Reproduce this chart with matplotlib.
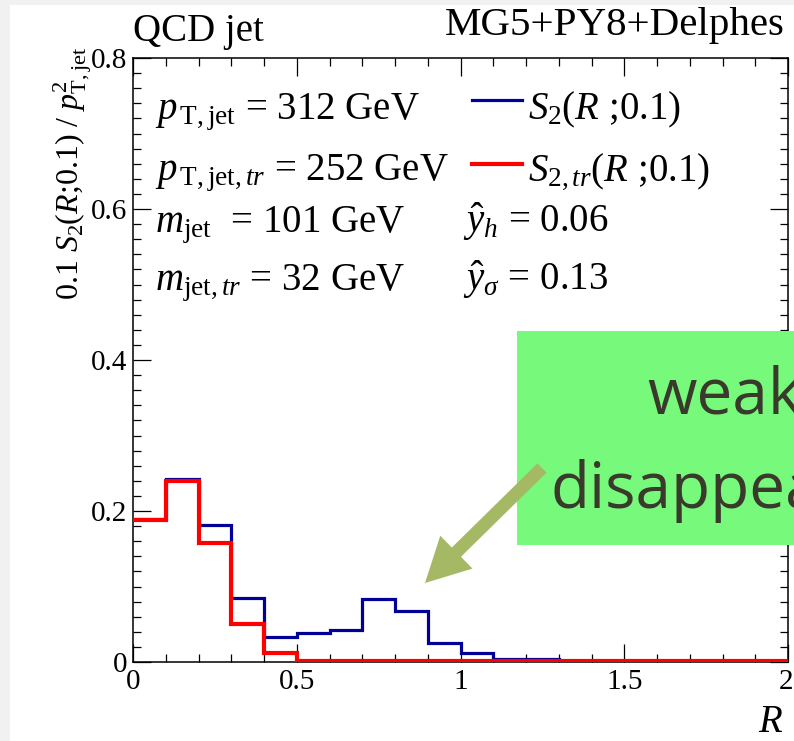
import numpy as np
import matplotlib.pyplot as plt
from matplotlib.patches import Rectangle, FancyArrow
from matplotlib.ticker import MultipleLocator
from matplotlib.transforms import ScaledTranslation

plt.rcParams['font.family'] = 'Liberation Serif'
plt.rcParams['mathtext.fontset'] = 'custom'
plt.rcParams['mathtext.rm'] = 'Liberation Serif'
plt.rcParams['mathtext.it'] = 'Liberation Serif:italic'
plt.rcParams['mathtext.bf'] = 'Liberation Serif:bold'

# bins of width 0.1 in R, from 0 to 2
r_edges = np.round(np.linspace(0, 2, 21), 2)
# S2(R;0.1) for the full jet (blue)
s2 = [0.190, 0.243, 0.182, 0.085, 0.033, 0.038, 0.042, 0.083, 0.068, 0.025,
      0.012, 0.004, 0.004, 0.0015, 0.0015, 0, 0, 0, 0, 0]
# S2 for the trimmed jet (red)
s2_tr = [0.188, 0.240, 0.157, 0.050, 0.0115, 0.0008, 0.0008, 0.0008, 0.0008, 0.0008,
         0.0008, 0.0008, 0.0008, 0.0008, 0.0008, 0.0008, 0.0008, 0.0008, 0.0008, 0.0008]

left_lines = [r'$p_{\,\mathrm{T,jet}}$ = 312 GeV',
              r'$p_{\,\mathrm{T,jet},tr}$ = 252 GeV',
              r'$m_{\mathrm{jet}}$  = 101 GeV',
              r'$m_{\mathrm{jet},tr}$ = 32 GeV']
right_lines = [r'$S_2$($R$ ;0.1)', r'$S_{2,tr}$($R$ ;0.1)',
               r'$\hat{y}_h$ = 0.06', r'$\hat{y}_\sigma$ = 0.13']
baselines = [119, 180, 232, 290]

W, H = 794, 741
fig = plt.figure(figsize=(W / 100, H / 100), dpi=100)
fig.patch.set_facecolor('#f1f1f1')
fig.add_artist(Rectangle((10, 0), W - 10, H - 5, transform=None,
                         facecolor='white', edgecolor='none', zorder=-10))

ax = fig.add_axes([133 / W, 79 / H, 655 / W, 604 / H])
ax.stairs(s2, r_edges, baseline=None, color='#000099', lw=2.3, zorder=3)
ax.stairs(s2_tr, r_edges, baseline=None, color='#ff0000', lw=3.0, zorder=4)
ax.set_xlim(0, 2)
ax.set_ylim(0, 0.8)
ax.xaxis.set_major_locator(MultipleLocator(0.5))
ax.xaxis.set_minor_locator(MultipleLocator(0.1))
ax.yaxis.set_major_locator(MultipleLocator(0.2))
ax.yaxis.set_minor_locator(MultipleLocator(0.02))
ax.tick_params(which='both', direction='in', top=True, right=True, width=0.9,
               labelsize=21)
ax.tick_params(which='major', length=13)
ax.tick_params(which='minor', length=6)
ax.tick_params(axis='x', pad=5)
ax.tick_params(axis='y', pad=4)
ax.set_xticks([0, 0.5, 1, 1.5, 2], ['0', '0.5', '1', '1.5', '2'])
ax.set_yticks([0, 0.2, 0.4, 0.6, 0.8], ['0', '0.2', '0.4', '0.6', '0.8'])
for sp in ax.spines.values():
    sp.set_linewidth(1.1)
# last x label sits right at the figure edge, nudge it in a bit
lab = ax.xaxis.get_major_ticks()[-1].label1
lab.set_transform(lab.get_transform() + ScaledTranslation(-0.02, 0, fig.dpi_scale_trans))

# overlay in pixel coordinates for annotations
fg = fig.add_axes([0, 0, 1, 1], zorder=10)
fg.set_xlim(0, W)
fg.set_ylim(H, 0)
fg.axis('off')
fg.patch.set_alpha(0)

fg.text(133, 41, 'QCD jet', fontsize=28, va='baseline', ha='left')
fg.text(785, 35, 'MG5+PY8+Delphes', fontsize=29.5, va='baseline', ha='right')
fg.text(79, 300, r'0.1 $S_2$($R$;0.1) / $p^2_{\mathrm{T,jet}}$', fontsize=23,
        rotation=90, ha='left', va='baseline', rotation_mode='anchor')
fg.text(783, 732, r'$R$', fontsize=28, ha='right', va='baseline')

for txt, yb in zip(left_lines, baselines):
    fg.text(155, yb, txt, fontsize=28, va='baseline', ha='left')
for i, (txt, yb) in enumerate(zip(right_lines, baselines)):
    x0 = 528 if i < 2 else 463
    fg.text(x0, yb, txt, fontsize=28, va='baseline', ha='left')
fg.plot([472, 522], [100, 100], color='#000099', lw=2.3)
fg.plot([472, 522], [164, 164], color='#ff0000', lw=3.0)

fg.add_patch(Rectangle((517, 331), 300, 214, facecolor='#77f97b',
                       edgecolor='none'))
fg.text(647, 413, 'weak', fontsize=46, family='Open Sans', color='#3a3a2c',
        va='baseline', ha='left')
fg.text(550, 508, 'disappears', fontsize=46, family='Open Sans', color='#3a3a2c',
        va='baseline', ha='left')
fg.add_patch(FancyArrow(542, 468, 425 - 542, 583 - 468, width=13,
                        head_width=46, head_length=44, length_includes_head=True,
                        facecolor='#a5b864', edgecolor='none'))

fig.savefig('out.png', dpi=100)
